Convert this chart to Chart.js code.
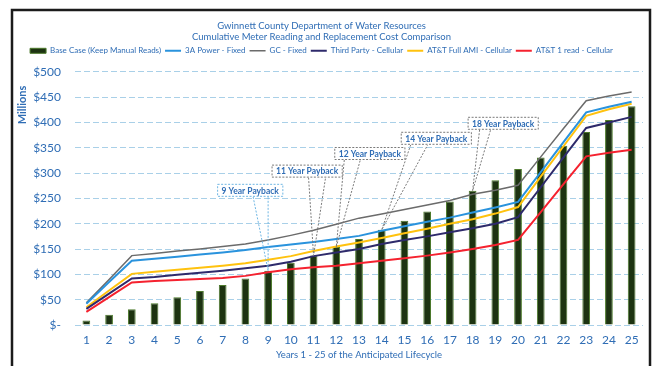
<!DOCTYPE html>
<html>
<head>
<meta charset="utf-8">
<script src="https://cdn.jsdelivr.net/npm/chart.js@4.4.1/dist/chart.umd.min.js"></script>
<style>
  html, body { margin: 0; padding: 0; background: #fff; }
  #wrap { width: 655px; height: 366px; position: relative; }
</style>
</head>
<body>
<div id="wrap"><canvas id="chart"></canvas></div>
<script>
// Years 1..25 of the lifecycle
const years = ['1','2','3','4','5','6','7','8','9','10','11','12','13','14','15','16','17','18','19','20','21','22','23','24','25'];

// cumulative cost, $ millions
const baseCase     = [9, 20, 31, 43, 55, 67, 79, 92, 107, 123, 137, 154, 170, 188, 206, 224, 244, 265, 286, 308, 331, 354, 381, 405, 432];
const gaPower      = [42, 85, 127, 131, 135, 139, 143, 148, 154, 159, 164, 170, 176, 186, 195, 204, 212, 222, 232, 243, 302, 361, 420, 431, 441];
const gcFixed      = [44, 90, 137, 141, 146, 150, 155, 160, 168, 177, 187, 199, 211, 219, 228, 237, 246, 258, 266, 276, 332, 388, 443, 452, 460];
const thirdParty   = [32, 62, 92, 95, 99, 103, 107, 112, 117, 125, 136, 143, 150, 160, 168, 175, 183, 191, 200, 213, 272, 331, 389, 400, 411];
const attFullAmi   = [35, 68, 101, 105, 109, 113, 117, 122, 129, 136, 146, 155, 163, 172, 181, 190, 200, 209, 220, 233, 293, 353, 413, 426, 437];
const att1Read     = [26, 55, 84, 87, 89, 91, 93, 97, 104, 110, 114, 117, 122, 127, 132, 137, 143, 150, 158, 168, 223, 278, 333, 340, 346];

const seriesNames = ['Base Case (Keep Manual Reads)', '3A Power - Fixed', 'GC - Fixed', 'Third Party - Cellular', 'AT&T Full AMI - Cellular', 'AT&T 1 read - Cellular'];
const yTicks = [0, 50, 100, 150, 200, 250, 300, 350, 400, 450, 500];

// payback callouts (year where a line meets the base case bar)
const paybackYears = [9, 11, 12, 14, 18];
const paybackLabels = ['9 Year Payback', '11 Year Payback', '12 Year Payback', '14 Year Payback', '18 Year Payback'];

// box offset from the target point, wedge base x inside the box, outline colour
const calloutLayout = [
  { dx: -51, dy: -87, wedge: [36, 51], stroke: '#6fb6e3' },
  { dx: -42, dy: -91, wedge: [37, 54], stroke: '#7a7a7a' },
  { dx: -2,  dy: -100, wedge: [10, 26], stroke: '#7a7a7a' },
  { dx: 19,  dy: -98, wedge: [10, 27], stroke: '#7a7a7a' },
  { dx: -5,  dy: -74, wedge: [12, 23], stroke: '#7a7a7a' }
];

const BLUE_TEXT = '#2f6db5';
const FONT = 'Lato, "Open Sans", sans-serif';

const lineSet = (label, data, color, width) => ({
  type: 'line',
  label,
  data,
  borderColor: color,
  backgroundColor: color,
  borderWidth: width,
  pointRadius: 0,
  pointStyle: 'line',
  tension: 0,
  order: 0
});

// a little extra room under the legend
const legendGap = {
  id: 'legendGap',
  beforeInit(chart) {
    const fit = chart.legend.fit;
    chart.legend.fit = function () {
      fit.call(this);
      this.height += 7;
    };
  }
};

const chromePlugin = {
  id: 'chrome',
  beforeDraw(chart) {
    const { ctx } = chart;
    ctx.save();
    ctx.strokeStyle = '#1b1b1b';
    ctx.lineWidth = 2.5;
    ctx.beginPath();
    ctx.moveTo(12, 368);
    ctx.lineTo(12, 10);
    ctx.lineTo(650, 10);
    ctx.lineTo(650, 368);
    ctx.stroke();
    ctx.restore();
  },
  afterDraw(chart) {
    const { ctx } = chart;
    ctx.save();
    ctx.translate(22, 105);
    ctx.rotate(-Math.PI / 2);
    ctx.fillStyle = BLUE_TEXT;
    ctx.font = 'bold 11px ' + FONT;
    ctx.textAlign = 'center';
    ctx.textBaseline = 'middle';
    ctx.fillText('Millions', 0, 0);
    ctx.restore();
  }
};

const calloutPlugin = {
  id: 'callouts',
  afterDatasetsDraw(chart) {
    const { ctx, scales: { x, y } } = chart;
    ctx.save();
    ctx.font = 'bold 8.5px ' + FONT;
    paybackYears.forEach((yr, i) => {
      const lay = calloutLayout[i];
      const tx = x.getPixelForValue(yr - 1);
      const ty = y.getPixelForValue(baseCase[yr - 1]);
      const text = paybackLabels[i];
      const w = ctx.measureText(text).width + 9;
      const h = 13;
      const left = tx + lay.dx;
      const top = ty + lay.dy;

      ctx.strokeStyle = lay.stroke;
      ctx.lineWidth = 1;
      ctx.setLineDash([2, 1.5]);
      ctx.beginPath();
      ctx.moveTo(left + lay.wedge[0], top + h);
      ctx.lineTo(tx, ty);
      ctx.lineTo(left + lay.wedge[1], top + h);
      ctx.stroke();

      ctx.fillStyle = '#fff';
      ctx.fillRect(left, top, w, h);
      ctx.strokeRect(left + 0.5, top + 0.5, w - 1, h - 1);
      ctx.setLineDash([]);

      ctx.fillStyle = BLUE_TEXT;
      ctx.textAlign = 'center';
      ctx.textBaseline = 'middle';
      ctx.fillText(text, left + w / 2, top + h / 2 + 0.5);
    });
    ctx.restore();
  }
};

new Chart(document.getElementById('chart'), {
  data: {
    labels: years,
    datasets: [
      {
        type: 'bar',
        label: seriesNames[0],
        data: baseCase,
        backgroundColor: '#1d3311',
        borderColor: '#4d7a2c',
        borderWidth: 1,
        pointStyle: 'rect',
        barPercentage: 0.34,
        categoryPercentage: 1,
        order: 1
      },
      lineSet(seriesNames[1], gaPower, '#2a93dd', 2),
      lineSet(seriesNames[2], gcFixed, '#6b6b6b', 1.5),
      lineSet(seriesNames[3], thirdParty, '#2e2a6b', 2),
      lineSet(seriesNames[4], attFullAmi, '#ffc20e', 2),
      lineSet(seriesNames[5], att1Read, '#f5222f', 2)
    ]
  },
  options: {
    responsive: true,
    maintainAspectRatio: false,
    animation: false,
    layout: { padding: { left: 0, right: 12, top: 0, bottom: 0 } },
    plugins: {
      tooltip: { enabled: false },
      title: {
        display: true,
        text: ['Gwinnett County Department of Water Resources', 'Cumulative Meter Reading and Replacement Cost Comparison'],
        color: BLUE_TEXT,
        font: { family: FONT, size: 9.5, weight: 'normal', lineHeight: 1.2 },
        padding: { top: 20, bottom: 0 }
      },
      legend: {
        display: true,
        labels: {
          color: BLUE_TEXT,
          font: { family: FONT, size: 8 },
          usePointStyle: true,
          pointStyleWidth: 16,
          boxHeight: 5,
          padding: 4,
          sort: (a, b) => a.datasetIndex - b.datasetIndex
        }
      }
    },
    scales: {
      x: {
        grid: { display: false, drawTicks: false },
        border: { display: false },
        ticks: { color: BLUE_TEXT, font: { family: FONT, size: 12 }, padding: 8, maxRotation: 0, autoSkip: false },
        title: {
          display: true,
          text: 'Years 1 - 25 of the Anticipated Lifecycle',
          color: BLUE_TEXT,
          font: { family: FONT, size: 9.5 },
          padding: { top: 0, bottom: 5 }
        },
        afterFit(scale) { scale.height = 41; }
      },
      y: {
        min: 0,
        max: 500,
        afterBuildTicks(scale) { scale.ticks = yTicks.map(v => ({ value: v })); },
        grid: { color: '#a9d0e8', lineWidth: 1, drawTicks: false },
        border: { display: false, dash: [6, 3] },
        ticks: {
          color: BLUE_TEXT,
          font: { family: FONT, size: 12 },
          padding: 14,
          callback: v => (v === 0 ? '$-' : '$' + v)
        },
        afterFit(scale) { scale.width = 75; }
      }
    }
  },
  plugins: [legendGap, chromePlugin, calloutPlugin]
});
</script>
</body>
</html>
